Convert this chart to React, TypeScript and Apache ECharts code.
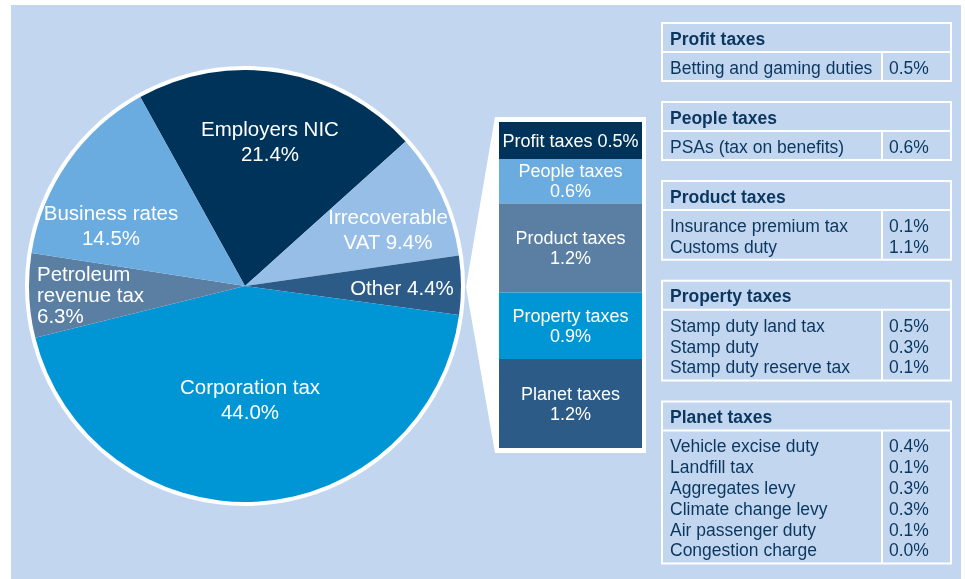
import React, { useEffect, useRef } from "react";
import * as echarts from "echarts";

// ---- Data ----
const pieNames = ["Employers NIC", "Irrecoverable VAT", "Other", "Corporation tax", "Petroleum revenue tax", "Business rates"];
const pieValues = [21.4, 9.4, 4.4, 44.0, 6.3, 14.5];
const pieLabelPrefixes = ["Employers NIC\n", "Irrecoverable\nVAT ", "Other ", "Corporation tax\n", "Petroleum\nrevenue tax\n", "Business rates\n"];
const pieColors = ["#003359", "#96bee7", "#2b5b86", "#0096d6", "#5a7fa3", "#6aabe0"];

const barNames = ["Profit taxes", "People taxes", "Product taxes", "Property taxes", "Planet taxes"];
const barValues = [0.5, 0.6, 1.2, 0.9, 1.2];
const barColors = ["#003359", "#6aabe0", "#5a7fa3", "#0096d6", "#2b5b86"];

const profitItems = ["Betting and gaming duties"];
const profitValues = [0.5];
const peopleItems = ["PSAs (tax on benefits)"];
const peopleValues = [0.6];
const productItems = ["Insurance premium tax", "Customs duty"];
const productValues = [0.1, 1.1];
const propertyItems = ["Stamp duty land tax", "Stamp duty", "Stamp duty reserve tax"];
const propertyValues = [0.5, 0.3, 0.1];
const planetItems = ["Vehicle excise duty", "Landfill tax", "Aggregates levy", "Climate change levy", "Air passenger duty", "Congestion charge"];
const planetValues = [0.4, 0.1, 0.3, 0.3, 0.1, 0.0];

const tables = [
  { title: "Profit taxes", items: profitItems, values: profitValues },
  { title: "People taxes", items: peopleItems, values: peopleValues },
  { title: "Product taxes", items: productItems, values: productValues },
  { title: "Property taxes", items: propertyItems, values: propertyValues },
  { title: "Planet taxes", items: planetItems, values: planetValues },
];

// ---- Layout ----
const FONT = "'Liberation Sans', Arial, Helvetica, sans-serif";
const BG = "#c2d7ef";
const TEXT = "#0b365f";
const pieCenter = [245, 286];
const pieRadius = 216;
// label anchor positions for pie labels [x, y, align]
const pieLabelPos: [number, number, string][] = [
  [270, 141, "center"],
  [388, 229, "center"],
  [402, 287, "center"],
  [250, 399, "center"],
  [37, 294, "left"],
  [111, 225, "center"],
];

export default function App() {
  const ref = useRef<HTMLDivElement>(null);
  useEffect(() => {
    if (!ref.current) return;
    const chart = echarts.init(ref.current, null, { renderer: "svg", width: 965, height: 579 });

    const graphics: any[] = [];
    graphics.push({ type: "rect", z: 0, shape: { x: 11, y: 5, width: 950, height: 574 }, style: { fill: BG } });
    graphics.push({ type: "circle", z: 1, shape: { cx: pieCenter[0], cy: pieCenter[1], r: pieRadius + 4 }, style: { fill: "#ffffff" } });
    graphics.push({ type: "polygon", z: 1, shape: { points: [[466, 287], [495, 117], [495, 453]] }, style: { fill: "#ffffff" } });
    graphics.push({ type: "rect", z: 1, shape: { x: 495, y: 117, width: 151, height: 336 }, style: { fill: "#ffffff" } });

    // tables
    const tx0 = 662, tx1 = 951, colX = 882;
    const headerH = 29, rowStep = 20.8, gap = 21;
    const fs = 17.5;
    let top = 23;
    tables.forEach((t) => {
      const bodyH = 29 + (t.items.length - 1) * rowStep;
      const bottom = top + headerH + bodyH;
      const st = { stroke: "#ffffff", lineWidth: 2, fill: null as any };
      graphics.push({ type: "rect", z: 2, shape: { x: tx0, y: top, width: tx1 - tx0, height: bottom - top }, style: { ...st } });
      graphics.push({ type: "line", z: 2, shape: { x1: tx0, y1: top + headerH, x2: tx1, y2: top + headerH }, style: { ...st } });
      graphics.push({ type: "line", z: 2, shape: { x1: colX, y1: top + headerH, x2: colX, y2: bottom }, style: { ...st } });
      graphics.push({
        type: "text", z: 3, x: 670, y: top + 15.5,
        style: { text: t.title, fill: TEXT, fontFamily: FONT, fontSize: fs, fontWeight: "bold", verticalAlign: "middle", align: "left" },
      });
      t.items.forEach((it, i) => {
        const cy = top + headerH + 16 + i * rowStep;
        graphics.push({
          type: "text", z: 3, x: 670, y: cy,
          style: { text: it, fill: TEXT, fontFamily: FONT, fontSize: fs, verticalAlign: "middle", align: "left" },
        });
        graphics.push({
          type: "text", z: 3, x: 889, y: cy,
          style: { text: t.values[i].toFixed(1) + "%", fill: TEXT, fontFamily: FONT, fontSize: fs, verticalAlign: "middle", align: "left" },
        });
      });
      top = bottom + gap;
    });

    const barSeries = barNames.map((n, i) => ({
      type: "bar",
      name: n,
      stack: "s",
      barWidth: "100%",
      data: [barValues[i]],
      itemStyle: { color: barColors[i] },
      label: {
        show: true,
        position: "inside",
        color: "#ffffff",
        fontFamily: FONT,
        fontSize: 18,
        lineHeight: 20,
        formatter: () => (i === 0 ? `${n} ${barValues[i].toFixed(1)}%` : `${n}\n${barValues[i].toFixed(1)}%`),
      },
    }));

    chart.setOption({
      animation: false,
      graphic: { elements: graphics },
      grid: { left: 499, top: 122, width: 143, height: 326, containLabel: false },
      xAxis: { type: "category", data: ["Other"], show: false },
      yAxis: { type: "value", min: 0, max: 4.4, inverse: true, show: false },
      series: [
        {
          type: "pie",
          center: pieCenter,
          radius: pieRadius,
          startAngle: 119,
          clockwise: true,
          silent: true,
          data: pieNames.map((n, i) => ({
            name: n,
            value: pieValues[i],
            itemStyle: { color: pieColors[i] },
            label: { align: pieLabelPos[i][2] as any, lineHeight: i === 4 ? 21 : 25 },
          })),
          label: {
            show: true,
            position: "inside",
            color: "#ffffff",
            fontFamily: FONT,
            fontSize: 20.5,
            lineHeight: 25,
            formatter: (p: any) => pieLabelPrefixes[p.dataIndex] + pieValues[p.dataIndex].toFixed(1) + "%",
          },
          labelLine: { show: false },
          labelLayout: (p: any) => {
            const pos = pieLabelPos[p.dataIndex];
            return { x: pos[0], y: pos[1], align: pos[2], verticalAlign: "middle" };
          },
        },
        ...barSeries,
      ],
    });
    return () => chart.dispose();
  }, []);
  return <div ref={ref} style={{ position: "fixed", left: 0, top: 0, width: 965, height: 579 }} />;
}
